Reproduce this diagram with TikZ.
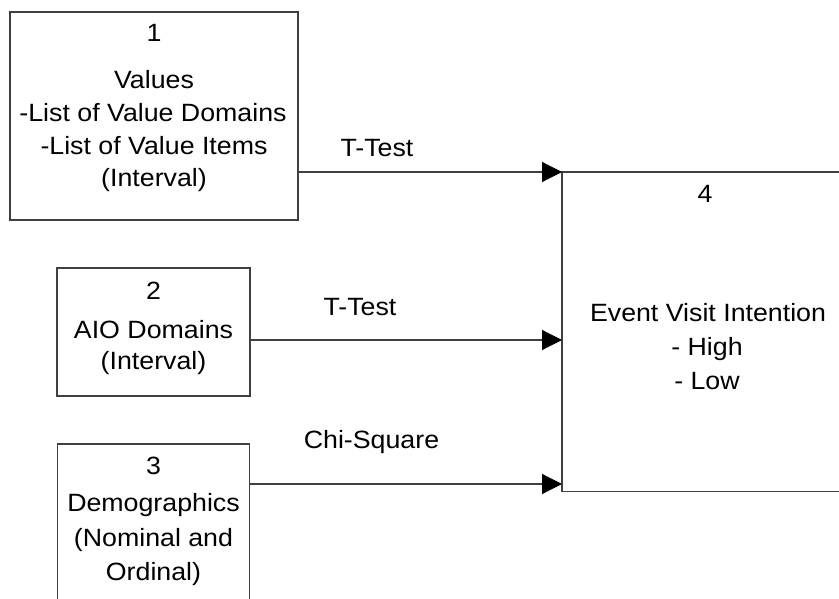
\documentclass[tikz,border=0pt]{standalone}
\usepackage{fontspec}
\setmainfont{Liberation Sans}[FakeStretch=1.07]
\usetikzlibrary{arrows.meta}
\begin{document}
\begin{tikzpicture}[x=1pt,y=-1pt,
    every node/.style={font=\fontsize{25}{29}\selectfont, inner sep=0pt, outer sep=0pt},
    boxline/.style={draw=black!75, line width=1.2pt},
    txt/.style={anchor=base},
    link/.style={draw=black!75, line width=1.2pt, -{Triangle[length=20pt,width=20pt,color=black]}}]
  \useasboundingbox (0,0) rectangle (839,599);

  % predictor boxes
  \node[boxline, minimum width=288pt, minimum height=208pt] (box1) at (154,116) {};
  \node[boxline, minimum width=193pt, minimum height=128pt] (box2) at (153.5,332) {};
  \node[minimum width=192pt, minimum height=155pt] (box3) at (153.5,521.5) {};
  \draw[boxline] (box3.south west) -- (box3.north west) -- (box3.north east) -- (box3.south east);

  % outcome box, open on the right
  \node[minimum width=277pt, minimum height=319.5pt] (box4) at (700.5,331.75) {};
  \draw[boxline] (box4.north east) -- (box4.north west) -- (box4.south west) -- (box4.south east);

  % box 1 text
  \node[txt] (n1) at (154,41.7) {1};
  \node[txt] (v1) at (154,89) {Values};
  \node[txt] (v2) at (153,121.5) {-List of Value Domains};
  \node[txt] (v3) at (154,155) {-List of Value Items};
  \node[txt] (v4) at (154,187) {(Interval)};

  % box 2 text
  \node[txt] (n2) at (153.5,299.5) {2};
  \node[txt] (a1) at (153.5,338.5) {AIO Domains};
  \node[txt] (a2) at (153.5,369) {(Interval)};

  % box 3 text
  \node[txt] (n3) at (153.5,474) {3};
  \node[txt] (d1) at (153.5,511) {Demographics};
  \node[txt] (d2) at (153.5,546) {(Nominal and};
  \node[txt] (d3) at (153.5,580) {Ordinal)};

  % box 4 text
  \node[txt] (n4) at (705,202.7) {4};
  \node[txt] (e1) at (708,321.7) {Event Visit Intention};
  \node[txt] (e2) at (707,355) {- High};
  \node[txt] (e3) at (707,389) {- Low};

  % connectors
  \draw[link] (box1.east |- box4.north west) -- (box4.north west);
  \draw[link] ([yshift=-8pt]box2.east) -- ([yshift=-8pt]box2.east -| box4.west);
  \draw[link] ([yshift=37.5pt]box3.east) -- ([yshift=37.5pt]box3.east -| box4.west);

  % test labels
  \node[txt] (t1) at (377,157) {T-Test};
  \node[txt] (t2) at (360,316) {T-Test};
  \node[txt] (t3) at (371.5,448) {Chi-Square};
\end{tikzpicture}
\end{document}
